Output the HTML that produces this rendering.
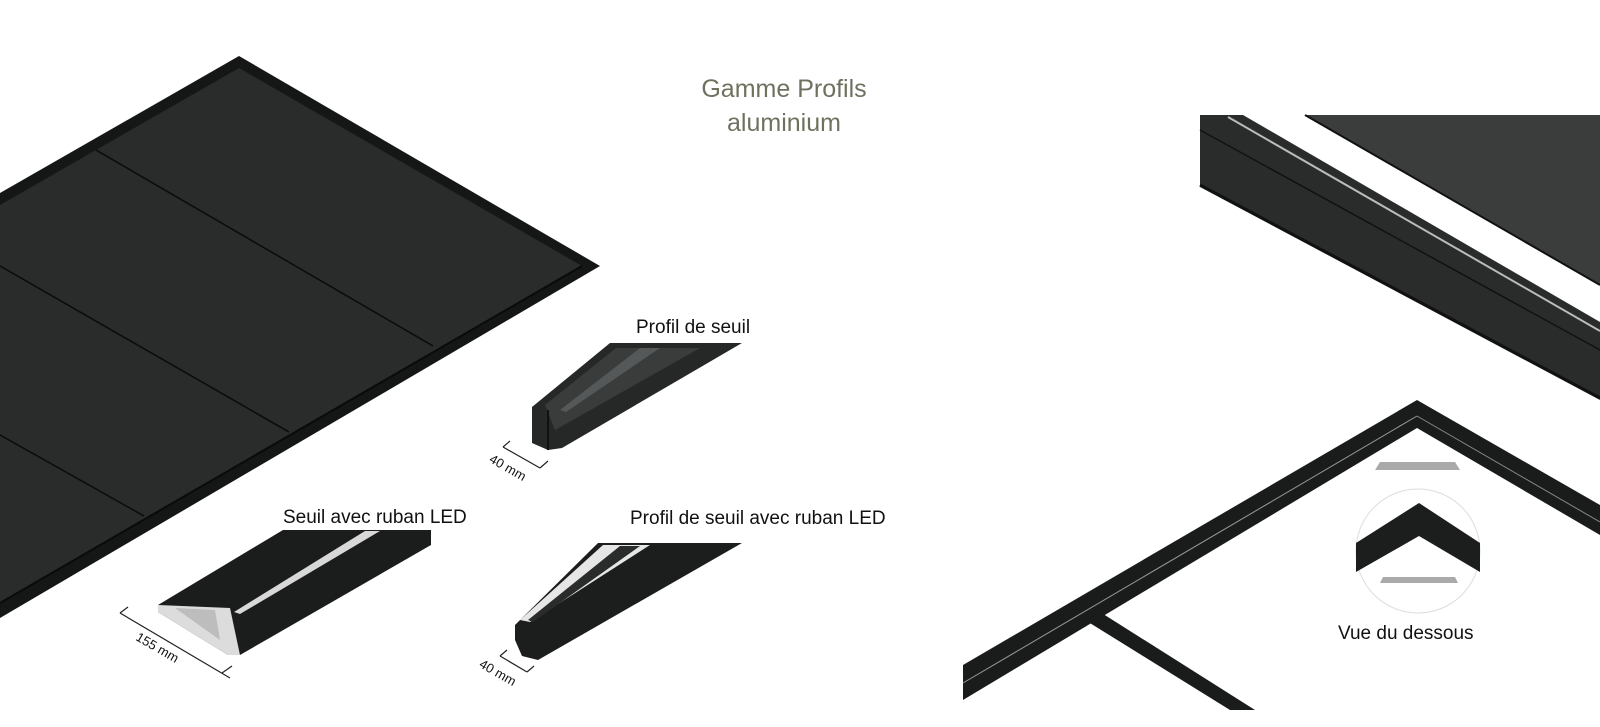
<!DOCTYPE html>
<html><head><meta charset="utf-8"><style>
html,body{margin:0;padding:0;background:#fff;}
body{width:1600px;height:727px;overflow:hidden;position:relative;font-family:"Liberation Sans",sans-serif;}
.t{position:absolute;color:#111;font-size:19px;white-space:nowrap;}
</style></head><body>
<svg width="1600" height="727" style="position:absolute;left:0;top:0">
<!-- big platform -->
<polygon points="0,193 239,56 600,266 0,618" fill="#151616"/>
<polygon points="0,205 239,68 582,266 0,603" fill="#2a2c2c"/>
<line x1="0" y1="603" x2="582" y2="266" stroke="#0a0a0a" stroke-width="2"/>
<g stroke="#0c0c0c" stroke-width="1.6">
<line x1="96" y1="150" x2="433" y2="346"/>
<line x1="0" y1="266" x2="289" y2="432"/>
<line x1="0" y1="435" x2="144" y2="516"/>
</g>
<!-- Profil de seuil -->
<polygon points="532,407 610,343 742,343 562,448 548,450 532,443" fill="#262828"/>
<polygon points="545,405 616,348 700,348 555,430" fill="#3a3c3c"/>
<polygon points="560,410 640,348 660,348 566,412" fill="#555858"/>
<line x1="548" y1="410" x2="548" y2="450" stroke="#111" stroke-width="2"/>
<!-- Seuil avec ruban LED -->
<polygon points="158,605 283,530 431,530 431,545 240,655 228,655 158,612" fill="#1b1c1c"/>
<polygon points="234,612 365,531 380,531 240,614" fill="#d8d8d8"/>
<polygon points="158,605 230,608 240,655 228,655 158,612" fill="#dcdcdc"/>
<polygon points="175,608 215,610 220,640" fill="#bdbdbd"/>
<!-- Profil de seuil avec ruban LED -->
<polygon points="515,625 598,543 742,543 538,660 522,656 515,640" fill="#1c1d1d"/>
<polygon points="520,620 603,545 650,545 530,622" fill="#e6e6e6"/>
<polygon points="528,620 620,546 640,546 533,622" fill="#2a2b2b"/>
<!-- dimension marks -->
<g stroke="#222" stroke-width="1.2" fill="none">
<line x1="503" y1="447" x2="540" y2="468"/><line x1="503" y1="447" x2="510" y2="441"/><line x1="540" y1="468" x2="548" y2="461"/>
<line x1="120" y1="613" x2="230" y2="678"/><line x1="120" y1="613" x2="128" y2="607"/><line x1="222" y1="673" x2="232" y2="666"/>
<line x1="500" y1="656" x2="527" y2="672"/><line x1="500" y1="656" x2="507" y2="650"/><line x1="527" y1="672" x2="534" y2="666"/>
</g>
<!-- right top bar -->
<polygon points="1200,115 1243,115 1600,322 1600,400 1200,187" fill="#2a2c2c"/>
<line x1="1228" y1="117" x2="1600" y2="331" stroke="#bbb" stroke-width="2"/>
<line x1="1200" y1="130" x2="1600" y2="350" stroke="#111" stroke-width="1.5"/>
<line x1="1200" y1="185" x2="1600" y2="398" stroke="#111" stroke-width="3"/>
<polygon points="1305,115 1600,115 1600,285" fill="#3a3d3c"/>
<line x1="1305" y1="115" x2="1600" y2="285" stroke="#111" stroke-width="2"/>
<!-- right bottom frame -->
<polygon points="963,665 1417,400 1600,505 1600,535 1417,428 963,700" fill="#1a1b1b"/>
<line x1="963" y1="683" x2="1417" y2="416" stroke="#999" stroke-width="1"/>
<line x1="1417" y1="416" x2="1600" y2="522" stroke="#888" stroke-width="1"/>
<polygon points="1380,462 1455,462 1460,470 1375,470" fill="#aaa"/>
<polygon points="1085,620 1100,612 1255,710 1230,710" fill="#1a1b1b"/>
<!-- circle -->
<circle cx="1418" cy="551" r="62" fill="#fff" stroke="#ddd" stroke-width="1"/>
<polygon points="1356,543 1419,503 1480,543 1480,572 1419,536 1356,572" fill="#1c1d1d"/>
<polygon points="1383,577 1455,577 1458,583 1380,583" fill="#aaa"/>
</svg>
<div class="t" style="left:694px;top:72px;font-size:25px;color:#6f715f;text-align:center;width:180px;line-height:34px">Gamme Profils<br>aluminium</div>
<div class="t" style="left:636px;top:317px">Profil de seuil</div>
<div class="t" style="left:283px;top:507px">Seuil avec ruban LED</div>
<div class="t" style="left:630px;top:508px">Profil de seuil avec ruban LED</div>
<div class="t" style="left:1338px;top:623px">Vue du dessous</div>
<div class="t" style="left:488px;top:460px;font-size:13px;transform:rotate(30deg)">40 mm</div>
<div class="t" style="left:134px;top:640px;font-size:13px;transform:rotate(30deg)">155 mm</div>
<div class="t" style="left:478px;top:665px;font-size:13px;transform:rotate(30deg)">40 mm</div>
</body></html>
